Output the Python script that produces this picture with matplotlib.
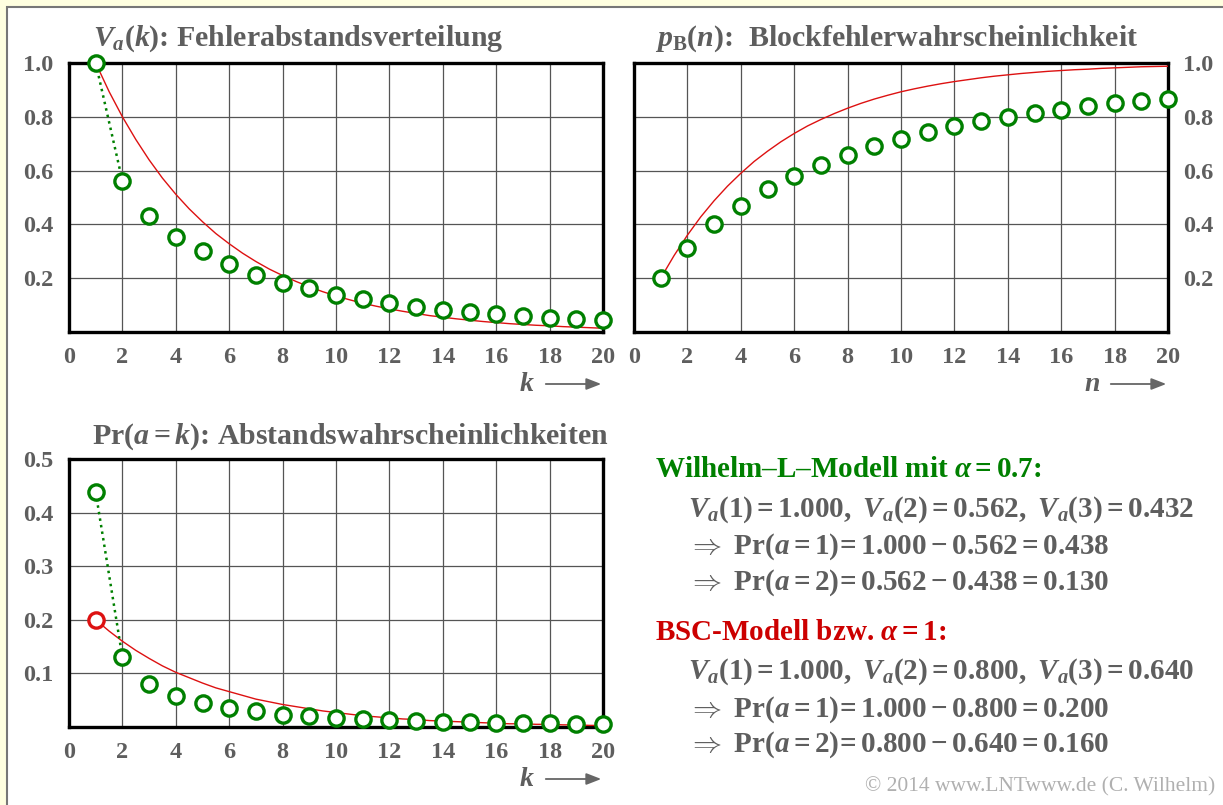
import numpy as np
import matplotlib
matplotlib.use("Agg")
import matplotlib.pyplot as plt
from matplotlib.patches import Rectangle

# distances k = 1..20 (also block length n for p_B)
k = np.arange(1, 21)
# finer grid for the BSC reference curves
kc = np.arange(1, 20.5, 0.5)

# Wilhelm-L model, alpha = 0.7
va_wl = [1.000, 0.562, 0.432, 0.353, 0.301, 0.254, 0.213, 0.182, 0.164, 0.139,
         0.123, 0.108, 0.094, 0.083, 0.075, 0.067, 0.060, 0.053, 0.048, 0.045]
pb_wl = [0.200, 0.313, 0.400, 0.470, 0.530, 0.580, 0.622, 0.658, 0.690, 0.718,
         0.743, 0.764, 0.783, 0.800, 0.814, 0.827, 0.839, 0.850, 0.860, 0.867]
pr_wl = [0.438, 0.130, 0.080, 0.057, 0.045, 0.035, 0.029, 0.023, 0.020, 0.017,
         0.015, 0.013, 0.011, 0.010, 0.009, 0.008, 0.007, 0.007, 0.006, 0.005]

# BSC model (alpha = 1), sampled on kc
va_bsc = [1.000, 0.894, 0.800, 0.716, 0.640, 0.572, 0.512, 0.458, 0.410, 0.366,
          0.328, 0.293, 0.262, 0.234, 0.210, 0.188, 0.168, 0.150, 0.134, 0.120,
          0.107, 0.096, 0.086, 0.077, 0.069, 0.061, 0.055, 0.049, 0.044, 0.039,
          0.035, 0.031, 0.028, 0.025, 0.023, 0.020, 0.018, 0.016, 0.014]
pb_bsc = [0.200, 0.284, 0.360, 0.428, 0.488, 0.542, 0.590, 0.634, 0.672, 0.707,
          0.738, 0.766, 0.790, 0.812, 0.832, 0.850, 0.866, 0.880, 0.893, 0.904,
          0.914, 0.923, 0.931, 0.938, 0.945, 0.951, 0.956, 0.961, 0.965, 0.969,
          0.972, 0.975, 0.977, 0.980, 0.982, 0.984, 0.986, 0.987, 0.988]
pr_bsc = [0.200, 0.179, 0.160, 0.143, 0.128, 0.114, 0.102, 0.092, 0.082, 0.073,
          0.066, 0.059, 0.052, 0.047, 0.042, 0.038, 0.034, 0.030, 0.027, 0.024,
          0.021, 0.019, 0.017, 0.015, 0.014, 0.012, 0.011, 0.010, 0.009, 0.008,
          0.007, 0.006, 0.006, 0.005, 0.005, 0.004, 0.004, 0.003, 0.003]

x_ticks = list(range(0, 21, 2))
y_ticks_top = [0.2, 0.4, 0.6, 0.8, 1.0]
y_ticks_pr = [0.1, 0.2, 0.3, 0.4, 0.5]

GREEN = "#008000"
RED = "#dd1111"
GRAY = "#5e5e5e"
SERIF = "Liberation Serif"

plt.rcParams["font.family"] = [SERIF, "DejaVu Serif"]
plt.rcParams["font.weight"] = "bold"
plt.rcParams["mathtext.fontset"] = "custom"
plt.rcParams["mathtext.rm"] = "Liberation Serif:bold"
plt.rcParams["mathtext.it"] = "Liberation Serif:italic:bold"
plt.rcParams["mathtext.bf"] = "Liberation Serif:bold"

W, H = 1223, 805
fig = plt.figure(figsize=(W / 100, H / 100), dpi=100, facecolor="#ffffe0")


def fx(x):
    return x / W


def fy(y):
    return 1 - y / H


# white panel with gray frame
fig.add_artist(Rectangle((fx(7), -0.02), 1.1, fy(7) + 0.02, transform=fig.transFigure,
                         facecolor="white", edgecolor="#777777", lw=1.5, zorder=-1))


def make_axes(x0, y0, x1, y1):
    ax = fig.add_axes([fx(x0), fy(y1), fx(x1) - fx(x0), fy(y0) - fy(y1)])
    ax.set_xlim(0, 20)
    ax.set_xticks(x_ticks)
    ax.grid(True, color="#555555", lw=0.9)
    ax.set_axisbelow(True)
    for s in ax.spines.values():
        s.set_linewidth(2.4)
        s.set_color("black")
    ax.tick_params(length=0, labelsize=17.5, labelcolor=GRAY, pad=11)
    for lab in ax.get_xticklabels() + ax.get_yticklabels():
        lab.set_fontweight("bold")
    return ax


def circles(ax, x, y, color):
    ax.plot(x, y, "o", ms=11, mew=2.4, mec=color, mfc="white", ls="none",
            clip_on=False, zorder=5)


def axis_arrow(letter, x, y):
    fig.text(fx(x), fy(y), "$" + letter + "$", fontsize=20, color=GRAY,
             ha="right", va="baseline")
    fig.add_artist(plt.Annotation("", xy=(fx(x + 69), fy(y - 7)), xytext=(fx(x + 8), fy(y - 7)),
                                  xycoords="figure fraction", textcoords="figure fraction",
                                  arrowprops=dict(arrowstyle="-|>,head_length=0.9,head_width=0.35",
                                                  color="#666666", lw=1.3)))


TFS = 21.5

# V_a(k): error distance distribution
ax1 = make_axes(69, 63, 603, 332)
ax1.set_ylim(0, 1)
ax1.set_yticks(y_ticks_top)
ax1.plot(kc, va_bsc, color=RED, lw=1.0, zorder=3)
ax1.plot(k[:2], va_wl[:2], ":", color=GREEN, lw=1.8, zorder=3)
circles(ax1, k, va_wl, GREEN)
fig.text(fx(93), fy(46), "$V_a(k)$: Fehlerabstandsverteilung", fontsize=TFS, color=GRAY,
         fontweight="bold")
axis_arrow("k", 535, 391)

# p_B(n): block error probability
ax2 = make_axes(634, 63, 1168, 332)
ax2.set_ylim(0, 1)
ax2.set_yticks(y_ticks_top)
ax2.yaxis.tick_right()
ax2.tick_params(length=0, pad=11)
ax2.plot(kc, pb_bsc, color=RED, lw=1.0, zorder=3)
circles(ax2, k, pb_wl, GREEN)
fig.text(fx(655), fy(46), r"$p_\mathrm{B}(n)$:  Blockfehlerwahrscheinlichkeit", fontsize=TFS,
         color=GRAY, fontweight="bold")
axis_arrow("n", 1100, 391)

# Pr(a = k): distance probabilities
ax3 = make_axes(69, 459, 603, 727)
ax3.set_ylim(0, 0.5)
ax3.set_yticks(y_ticks_pr)
ax3.plot(kc, pr_bsc, color=RED, lw=1.0, zorder=3)
ax3.plot(k[:2], pr_wl[:2], ":", color=GREEN, lw=1.8, zorder=3)
circles(ax3, k, pr_wl, GREEN)
circles(ax3, k[:1], pr_bsc[:1], RED)
fig.text(fx(92), fy(444), "Pr($a = k$): Abstandswahrscheinlichkeiten", fontsize=TFS,
         color=GRAY, fontweight="bold")
axis_arrow("k", 535, 786)

# worked example on the right
fs = 21
fig.text(fx(655), fy(477), r"Wilhelm–L–Modell mit $\alpha = 0.7$:", fontsize=fs, color=GREEN)
fig.text(fx(688), fy(517), r"$V_a(1) = 1.000,\ V_a(2) = 0.562,\ V_a(3) = 0.432$", fontsize=fs, color=GRAY)
fig.text(fx(688), fy(554), r"$\Rightarrow\ \mathrm{Pr}(a = 1)\!= 1.000 - 0.562 = 0.438$", fontsize=fs, color=GRAY)
fig.text(fx(688), fy(590), r"$\Rightarrow\ \mathrm{Pr}(a = 2)\!= 0.562 - 0.438 = 0.130$", fontsize=fs, color=GRAY)
fig.text(fx(655), fy(640), r"BSC-Modell bzw. $\alpha = 1$:", fontsize=fs, color="#cc0000")
fig.text(fx(688), fy(679), r"$V_a(1) = 1.000,\ V_a(2) = 0.800,\ V_a(3) = 0.640$", fontsize=fs, color=GRAY)
fig.text(fx(688), fy(717), r"$\Rightarrow\ \mathrm{Pr}(a = 1)\!= 1.000 - 0.800 = 0.200$", fontsize=fs, color=GRAY)
fig.text(fx(688), fy(752), r"$\Rightarrow\ \mathrm{Pr}(a = 2)\!= 0.800 - 0.640 = 0.160$", fontsize=fs, color=GRAY)
fig.text(fx(1215), fy(791), "© 2014 www.LNTwww.de (C. Wilhelm)", fontsize=15.5, color="#b0b0b0",
         fontweight="normal", ha="right")

fig.savefig("out.png", dpi=100, facecolor=fig.get_facecolor())
